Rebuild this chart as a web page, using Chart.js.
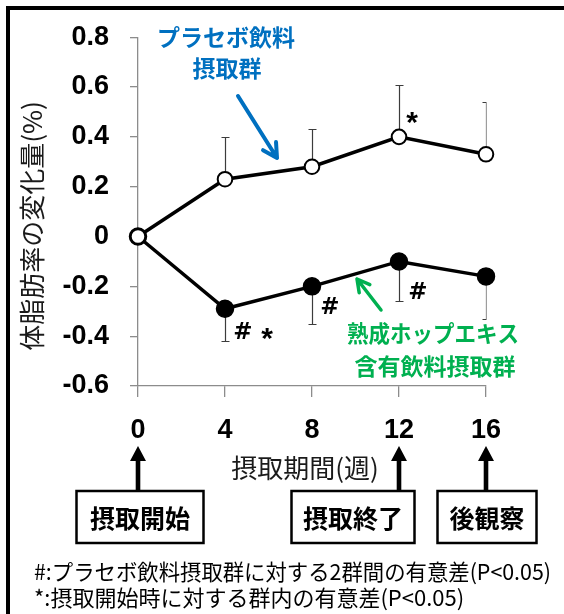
<!DOCTYPE html>
<html lang="ja">
<head>
<meta charset="utf-8">
<title>体脂肪率の変化量</title>
<script src="https://cdn.jsdelivr.net/npm/chart.js@4.4.1/dist/chart.umd.min.js"></script>
<style>
  html, body { margin: 0; padding: 0; background: #fff; }
  #wrap { width: 564px; height: 614px; }
</style>
</head>
<body>
<div id="wrap"><canvas id="c" width="564" height="614"></canvas></div>
<script>
// 摂取期間 (週)
const weeks = [0, 4, 8, 12, 16];
// プラセボ飲料摂取群: 平均と上側の誤差
const placeboMean = [0, 0.23, 0.28, 0.40, 0.33];
const placeboErr  = [0, 0.17, 0.15, 0.21, 0.21];
// 熟成ホップエキス含有飲料摂取群: 平均と下側の誤差
const hopMean = [0, -0.29, -0.20, -0.10, -0.16];
const hopErr  = [0, 0.13, 0.15, 0.16, 0.17];

// 目盛り
const xTicks = [0, 4, 8, 12, 16];
const yTicks = [-0.6, -0.4, -0.2, 0, 0.2, 0.4, 0.6, 0.8];

// 軸タイトル・注記
const xTitle = '摂取期間(週)';
const yTitle = '体脂肪率の変化量(%)';
const placeboLabel = ['プラセボ飲料', '摂取群'];
const hopLabel = ['熟成ホップエキス', '含有飲料摂取群'];
const phaseWeeks = [0, 12, 16];
const phaseLabels = ['摂取開始', '摂取終了', '後観察'];
const notes = [
  '#:プラセボ飲料摂取群に対する2群間の有意差(P<0.05)',
  '*:摂取開始時に対する群内の有意差(P<0.05)'
];
// 有意差の記号 (系列, 週の番号, 記号)
const sigMarks = [
  { series: 'placebo', idx: 3, text: '*' },
  { series: 'hop', idx: 1, text: '#' },
  { series: 'hop', idx: 1, text: '*' },
  { series: 'hop', idx: 2, text: '#' },
  { series: 'hop', idx: 3, text: '#' }
];

const JP = '"Noto Sans CJK JP", "Noto Sans", sans-serif';
const NUM = '"Liberation Sans", Arial, sans-serif';
const BLUE = '#0070C0';
const GREEN = '#00B050';

function arrowLine(ctx, x1, y1, x2, y2, color, w, head) {
  const a = Math.atan2(y2 - y1, x2 - x1);
  ctx.save();
  ctx.strokeStyle = color;
  ctx.lineWidth = w;
  ctx.lineCap = 'round';
  ctx.lineJoin = 'round';
  ctx.beginPath();
  ctx.moveTo(x1, y1);
  ctx.lineTo(x2, y2);
  ctx.moveTo(x2 - head * Math.cos(a - 0.5), y2 - head * Math.sin(a - 0.5));
  ctx.lineTo(x2, y2);
  ctx.lineTo(x2 - head * Math.cos(a + 0.5), y2 - head * Math.sin(a + 0.5));
  ctx.stroke();
  ctx.restore();
}

function upArrow(ctx, x, tipY, baseY) {
  ctx.save();
  ctx.fillStyle = '#000';
  ctx.fillRect(x - 2.3, tipY + 12, 4.6, baseY - tipY - 12);
  ctx.beginPath();
  ctx.moveTo(x, tipY);
  ctx.lineTo(x - 8, tipY + 15);
  ctx.lineTo(x + 8, tipY + 15);
  ctx.closePath();
  ctx.fill();
  ctx.restore();
}

const decor = {
  id: 'decor',
  beforeDraw(chart) {
    const { ctx, width, height } = chart;
    ctx.save();
    ctx.fillStyle = '#fff';
    ctx.fillRect(0, 0, width, height);
    // 外枠 (上と左)
    ctx.fillStyle = '#000';
    ctx.fillRect(6, 6, width - 6, 4);
    ctx.fillRect(6, 6, 4, height - 6);
    ctx.restore();
  },
  beforeDatasetsDraw(chart) {
    // 誤差棒 (プラセボは上側、ホップは下側)
    const { ctx, chartArea } = chart;
    const xs = chart.scales.x, ys = chart.scales.y;
    ctx.save();
    ctx.beginPath();
    ctx.rect(chartArea.left - 20, 0, chartArea.right - chartArea.left + 20.5, chart.height);
    ctx.clip();
    ctx.strokeStyle = '#3c3c3c';
    ctx.lineWidth = 1.2;
    const draw = (mean, err, dir) => {
      weeks.forEach((w, i) => {
        if (!err[i]) return;
        const x = Math.round(xs.getPixelForValue(w)) + 0.5;
        const y0 = ys.getPixelForValue(mean[i]);
        const y1 = Math.round(ys.getPixelForValue(mean[i] + dir * err[i])) + 0.5;
        ctx.beginPath();
        ctx.moveTo(x, y0);
        ctx.lineTo(x, y1);
        ctx.moveTo(x - 4, y1);
        ctx.lineTo(x + 4, y1);
        ctx.stroke();
      });
    };
    draw(placeboMean, placeboErr, 1);
    draw(hopMean, hopErr, -1);
    ctx.restore();
  },
  afterDraw(chart) {
    const { ctx } = chart;
    const xs = chart.scales.x, ys = chart.scales.y;
    ctx.save();

    // 有意差の記号
    const offs = [[13, -20], [18, 24], [42, 24], [18, 22], [19, 32]];
    ctx.fillStyle = '#000';
    ctx.textAlign = 'center';
    ctx.textBaseline = 'middle';
    sigMarks.forEach((m, k) => {
      const mean = m.series === 'placebo' ? placeboMean : hopMean;
      const x = xs.getPixelForValue(weeks[m.idx]) + offs[k][0];
      const y = ys.getPixelForValue(mean[m.idx]) + offs[k][1];
      if (m.text === '*') {
        ctx.font = 'bold 30px ' + NUM;
        ctx.fillText(m.text, x, y + 7);
      } else {
        ctx.font = 'bold 23px "DejaVu Sans", sans-serif';
        ctx.fillText(m.text, x, y);
      }
    });

    // 系列名と矢印
    ctx.font = 'bold 23px ' + JP;
    ctx.fillStyle = BLUE;
    ctx.fillText(placeboLabel[0], 226, 37);
    ctx.fillText(placeboLabel[1], 227, 68);
    arrowLine(ctx, 238, 96, 277, 158, BLUE, 4, 16);

    ctx.fillStyle = GREEN;
    ctx.fillText(hopLabel[0], 433, 333, 172);
    ctx.fillText(hopLabel[1], 435, 366);
    arrowLine(ctx, 381, 310, 357, 279, GREEN, 3.5, 14);

    // 軸タイトル
    ctx.fillStyle = '#1a1a1a';
    ctx.font = '26px ' + JP;
    ctx.fillText(xTitle, 305, 468);
    ctx.save();
    ctx.translate(32, 226);
    ctx.rotate(-Math.PI / 2);
    ctx.fillText(yTitle, 0, 0);
    ctx.restore();

    // 期間の矢印と枠
    const boxW = [127, 123, 99];
    const boxDx = [2, -46, 1];
    const boxTop = 491, boxBot = 543;
    phaseWeeks.forEach((w, i) => {
      const x = xs.getPixelForValue(w);
      upArrow(ctx, x, 446, boxTop);
      const cx = x + boxDx[i];
      ctx.fillStyle = '#fff';
      ctx.fillRect(cx - boxW[i] / 2, boxTop, boxW[i], boxBot - boxTop);
      ctx.strokeStyle = '#000';
      ctx.lineWidth = 2.5;
      ctx.strokeRect(cx - boxW[i] / 2, boxTop, boxW[i], boxBot - boxTop);
      ctx.fillStyle = '#000';
      ctx.font = 'bold 25px ' + JP;
      ctx.fillText(phaseLabels[i], cx, (boxTop + boxBot) / 2 + 1);
    });

    // 注釈
    ctx.textAlign = 'left';
    ctx.font = '22px ' + JP;
    ctx.fillStyle = '#000';
    ctx.fillText(notes[0], 34, 572, 517);
    ctx.fillText(notes[1], 34, 598);
    ctx.restore();
  }
};

const placeboData = weeks.map((w, i) => ({ x: w, y: placeboMean[i] }));
const hopData = weeks.map((w, i) => ({ x: w, y: hopMean[i] }));

new Chart(document.getElementById('c'), {
  type: 'line',
  data: {
    datasets: [
      {
        label: placeboLabel.join(''),
        data: placeboData,
        borderColor: '#000',
        borderWidth: 3.5,
        pointRadius: 7.3,
        pointBorderWidth: 2,
        pointBackgroundColor: '#fff',
        pointBorderColor: '#000',
        tension: 0,
        clip: false
      },
      {
        label: hopLabel.join(''),
        data: hopData,
        borderColor: '#000',
        borderWidth: 3.5,
        pointRadius: 8.5,
        pointBorderWidth: 1.5,
        pointBackgroundColor: '#000',
        pointBorderColor: '#000',
        tension: 0,
        clip: false
      }
    ]
  },
  options: {
    responsive: false,
    animation: false,
    devicePixelRatio: 1,
    layout: { padding: { left: 0, right: 78, top: 26, bottom: 0 } },
    plugins: { legend: { display: false }, tooltip: { enabled: false } },
    scales: {
      x: {
        type: 'linear',
        min: 0,
        max: 16,
        afterBuildTicks: s => { s.ticks = xTicks.map(v => ({ value: v })); },
        afterFit: s => { s.height = 228; },
        ticks: {
          color: '#000',
          padding: 17,
          font: { family: NUM, size: 27, weight: 'bold' },
          callback: v => String(v)
        },
        grid: { drawOnChartArea: false, tickLength: 11, color: '#8c8c8c', lineWidth: 1.3 },
        border: { color: '#8c8c8c', width: 1.3 }
      },
      y: {
        min: -0.6,
        max: 0.8,
        afterBuildTicks: s => { s.ticks = yTicks.map(v => ({ value: v })); },
        afterFit: s => { s.width = 138; },
        ticks: {
          color: '#000',
          padding: 21,
          font: { family: NUM, size: 27, weight: 'bold' },
          callback: v => (Math.abs(v) < 1e-9 ? '0' : v.toFixed(1))
        },
        grid: { drawOnChartArea: false, tickLength: 8, color: '#8c8c8c', lineWidth: 1.3 },
        border: { color: '#8c8c8c', width: 1.3 }
      }
    }
  },
  plugins: [decor]
});
</script>
</body>
</html>
